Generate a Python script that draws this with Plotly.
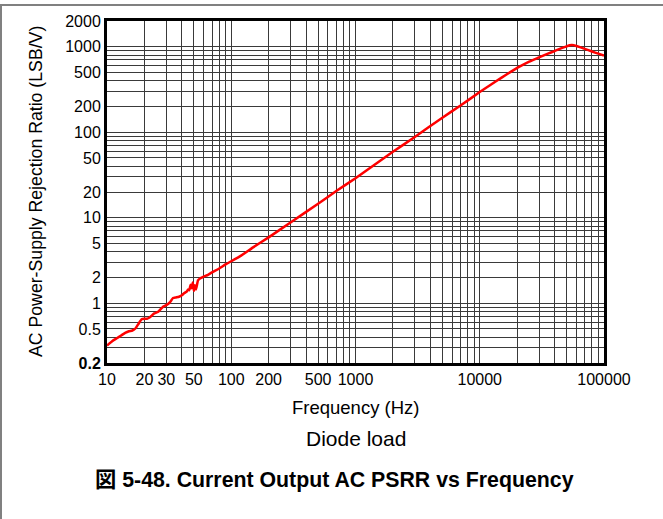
import plotly.graph_objects as go

# ---- data ----
freq_hz = [10, 11, 12, 13, 14, 15, 16, 17, 18, 19, 20, 21, 22, 24, 26, 28, 30, 32, 34,
           36, 38, 40, 42, 44, 45, 46, 47, 48, 49, 50, 51, 52, 54, 56, 60, 65, 70, 80,
           90, 100, 120, 150, 200, 300, 500, 700, 1000, 1500, 2000, 3000, 5000, 7000,
           10000, 12000, 15000, 18000, 20000, 25000, 30000, 35000, 40000, 45000, 50000,
           53000, 55000, 57000, 60000, 70000, 80000, 90000, 100000]
psrr_lsb_v = [0.32, 0.36, 0.39, 0.42, 0.45, 0.47, 0.48, 0.51, 0.58, 0.65, 0.66, 0.66, 0.68,
              0.76, 0.80, 0.90, 0.95, 1.02, 1.15, 1.17, 1.19, 1.24, 1.32, 1.38, 1.45, 1.42,
              1.65, 1.50, 1.75, 1.40, 1.62, 1.45, 1.85, 1.95, 2.05, 2.15, 2.30, 2.55, 2.85,
              3.1, 3.6, 4.5, 5.9, 8.8, 14.6, 20.5, 29, 44, 59, 88, 148, 205,
              295, 352, 435, 515, 565, 670, 750, 825, 890, 955, 1010,
              1040, 1050, 1045, 1020, 945, 880, 830, 790]

x_tick_vals = [10, 20, 30, 50, 100, 200, 500, 1000, 10000, 100000]
x_tick_text = ["10", "20", "30", "50", "100", "200", "500", "1000", "10000", "100000"]
y_tick_vals = [0.2, 0.5, 1, 2, 5, 10, 20, 50, 100, 200, 500, 1000, 2000]
y_tick_text = ["<b>0.2</b>", "0.5", "1", "2", "5", "10", "20", "50", "100", "200", "500", "1000", "2000"]

x_decades = [10, 100, 1000, 10000]
y_decades = [0.1, 1, 10, 100, 1000]
minor_steps = [1, 2, 3, 4, 5, 6, 7, 8, 9]
x_grid_vals = [d * m for d in x_decades for m in minor_steps] + [100000]
y_grid_vals = [d * m for d in y_decades for m in minor_steps if 0.2 <= d * m <= 2000]

x_title = "Frequency (Hz)"
y_title = "AC Power-Supply Rejection Ratio (LSB/V)"
subtitle = "Diode load"
caption = "図 5-48. Current Output AC PSRR vs Frequency"

FONT = "Liberation Sans, Arial, Noto Sans CJK JP, sans-serif"
GRID = "#3a3a3a"

fig = go.Figure()
fig.add_trace(go.Scatter(x=freq_hz, y=psrr_lsb_v, mode="lines",
                         line=dict(color="#ff0000", width=2.5, shape="spline", smoothing=0.4),
                         showlegend=False))

W, H = 663, 519
L, R, T, B = 107, 59, 21, 156
pw, ph = W - L - R, H - T - B


def px_to_paper_x(px):
    return (px - L) / pw


def px_to_paper_y(py):
    return (H - B - py) / ph


fig.update_layout(
    width=W, height=H,
    margin=dict(l=L, r=R, t=T, b=B, autoexpand=False),
    paper_bgcolor="white", plot_bgcolor="white",
    font=dict(family=FONT, color="black", size=16),
    xaxis=dict(type="log", range=[1, 5], tickvals=x_tick_vals, ticktext=x_tick_text,
               tickangle=0, showgrid=False, zeroline=False, ticks="", automargin=False,
               showline=True, linecolor="black", linewidth=3, mirror=True,
               tickfont=dict(size=16),
               minor=dict(tickvals=x_grid_vals, showgrid=True, gridcolor=GRID, gridwidth=1, ticks="")),
    yaxis=dict(type="log", range=[-0.69897, 3.30103], tickvals=y_tick_vals, ticktext=y_tick_text,
               showgrid=False, zeroline=False, ticks="", automargin=False,
               showline=True, linecolor="black", linewidth=3, mirror=True,
               tickfont=dict(size=16),
               minor=dict(tickvals=y_grid_vals, showgrid=True, gridcolor=GRID, gridwidth=1, ticks="")),
    annotations=[
        dict(text=x_title, xref="paper", yref="paper", x=0.5, y=px_to_paper_y(407),
             xanchor="center", yanchor="middle", showarrow=False, font=dict(size=18.5)),
        dict(text=y_title, xref="paper", yref="paper", x=px_to_paper_x(36), y=0.5,
             xanchor="center", yanchor="middle", showarrow=False, textangle=-90,
             font=dict(size=17.7)),
        dict(text=subtitle, xref="paper", yref="paper", x=0.5, y=px_to_paper_y(438),
             xanchor="center", yanchor="middle", showarrow=False, font=dict(size=21)),
        dict(text="<b>" + caption + "</b>", xref="paper", yref="paper", x=px_to_paper_x(334),
             y=px_to_paper_y(480), xanchor="center", yanchor="middle", showarrow=False,
             font=dict(size=21.3)),
    ],
    shapes=[
        dict(type="line", xref="paper", yref="paper", x0=px_to_paper_x(0), x1=px_to_paper_x(663),
             y0=px_to_paper_y(5), y1=px_to_paper_y(5), line=dict(color="#808080", width=2)),
        dict(type="line", xref="paper", yref="paper", x0=px_to_paper_x(1), x1=px_to_paper_x(1),
             y0=px_to_paper_y(5), y1=px_to_paper_y(519), line=dict(color="#808080", width=2)),
    ],
)

fig.write_html("out.html", config={"displayModeBar": False},
               post_script="document.body.style.margin='0';")
